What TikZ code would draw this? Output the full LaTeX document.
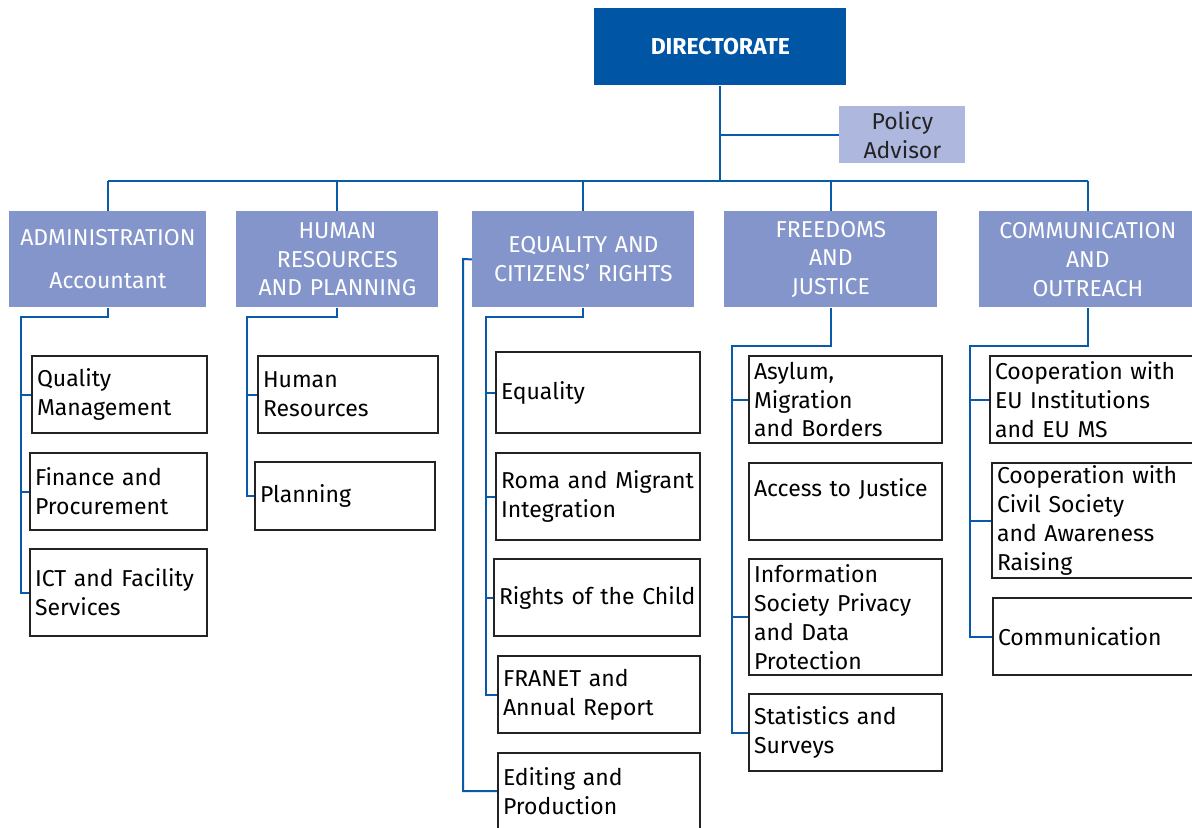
\documentclass[tikz,border=0pt]{standalone}
\usepackage{fontspec}
\setmainfont{Fira Sans}
\usetikzlibrary{positioning}

\definecolor{direct}{RGB}{0,85,164}
\definecolor{dept}{RGB}{131,149,202}
\definecolor{advisor}{RGB}{174,184,222}
\definecolor{link}{RGB}{10,90,170}
\definecolor{frame}{RGB}{35,35,35}
\newcommand\orgfont{\fontsize{11.5}{14.4}\selectfont}

\tikzset{
  size/.style 2 args={minimum width=#1*0.5pt, minimum height=#2*0.5pt, text width=#1*0.5pt-5pt},
  box/.style={anchor=north west, inner xsep=2.5pt, inner ysep=0pt, font=\orgfont},
  head/.style={box, fill=dept, text=white, align=center},
  unit/.style={box, draw=frame, line width=1pt, fill=white, align=left},
  link/.style={draw=link, line width=1pt}
}

\begin{document}
\begin{tikzpicture}[x=0.5pt, y=-0.5pt]
    \clip (0,0) rectangle (1192,827);
    % top level
    \node[head, fill=direct, size={252}{77}, font=\orgfont\bfseries] (dir) at (594,8) {DIRECTORATE};
    \node[head, fill=advisor, text=frame, size={126}{57}] (pa) at (839,106) {Policy\\Advisor};
    % departments
    \node[head, size={197}{96}] (adm) at (9,211) {ADMINISTRATION\\[7pt]Accountant};
    \node[head, size={202}{96}] (hr) at (236,211) {HUMAN\\RESOURCES\\AND PLANNING};
    \node[head, size={222}{96}] (eq) at (472,211) {EQUALITY AND\\CITIZENS’ RIGHTS};
    \node[head, size={213}{96}] (fj) at (724,211) {FREEDOMS\\AND\\JUSTICE};
    \node[head, size={217}{96}] (co) at (979,211) {COMMUNICATION\\AND\\OUTREACH};
    % administration units
    \node[unit, size={175}{77}] (qm) at (31,355) {Quality\\Management};
    \node[unit, size={177}{77}] (fp) at (29,452) {Finance and\\Procurement};
    \node[unit, size={177}{87}] (ict) at (29,548) {ICT and Facility\\Services};
    % human resources units
    \node[unit, size={180}{77}] (hres) at (257,355) {Human\\Resources};
    \node[unit, size={180}{68}] (plan) at (254,461) {Planning};
    % equality units
    \node[unit, size={204}{81}] (equ) at (495,351) {Equality};
    \node[unit, size={204}{87}] (roma) at (495,452) {Roma and Migrant\\Integration};
    \node[unit, size={206}{77}] (child) at (493,558) {\mbox{Rights of the Child}};
    \node[unit, size={202}{77}] (franet) at (497,655) {FRANET and\\Annual Report};
    \node[unit, size={202}{76}] (edit) at (497,752) {Editing and\\Production};
    % freedoms units
    \node[unit, size={193}{87}] (asy) at (748,355) {Asylum,\\Migration\\and Borders};
    \node[unit, size={193}{77}] (acc) at (748,462) {Access to Justice\\\mbox{}};
    \node[unit, size={193}{116}] (info) at (748,558) {Information\\Society Privacy\\and Data\\Protection};
    \node[unit, size={193}{77}] (stat) at (748,693) {Statistics and\\Surveys};
    % communication units
    \node[unit, size={212}{87}] (coeu) at (989,355) {Cooperation with\\EU Institutions\\and EU MS};
    \node[unit, size={210}{115}] (coci) at (991,462) {Cooperation with\\Civil Society\\and Awareness\\Raising};
    \node[unit, size={209}{77}] (comm) at (992,597) {Communication};
    % connectors from the directorate
    \coordinate (bus) at (0,181);
    \draw[link] (dir.south) -- (dir.south |- bus) (dir.south |- pa.west) -- (pa.west);
    \draw[link] (adm.north |- bus) -- (co.north |- bus);
    \foreach \d in {adm,hr,eq,fj,co} {\draw[link] (\d.north |- bus) -- (\d.north);}
    % rails down to the units
    \coordinate (admrail) at (21,317); \coordinate (hrrail) at (247,317);
    \coordinate (eqrail) at (486,317); \coordinate (eqouter) at (463,259);
    \coordinate (fjrail) at (732,346); \coordinate (corail) at (970,346);
    \draw[link] (adm.south) |- (admrail) |- (ict.west);
    \draw[link] (hr.south) |- (hrrail) |- (plan.west);
    \draw[link] (eq.south) |- (eqrail) |- (franet.west);
    \draw[link] (eq.west) -- (eqouter) |- (edit.west);
    \draw[link] (fj.south) |- (fjrail) |- (stat.west);
    \draw[link] (co.south) |- (corail) |- (comm.west);
    \foreach \u in {qm,fp} {\draw[link] (admrail |- \u.west) -- (\u.west);}
    \draw[link] (hrrail |- hres.west) -- (hres.west);
    \foreach \u in {equ,roma,child} {\draw[link] (eqrail |- \u.west) -- (\u.west);}
    \foreach \u in {asy,info} {\draw[link] (fjrail |- \u.west) -- (\u.west);}
    \foreach \u in {coeu,coci} {\draw[link] (corail |- \u.west) -- (\u.west);}
\end{tikzpicture}
\end{document}
